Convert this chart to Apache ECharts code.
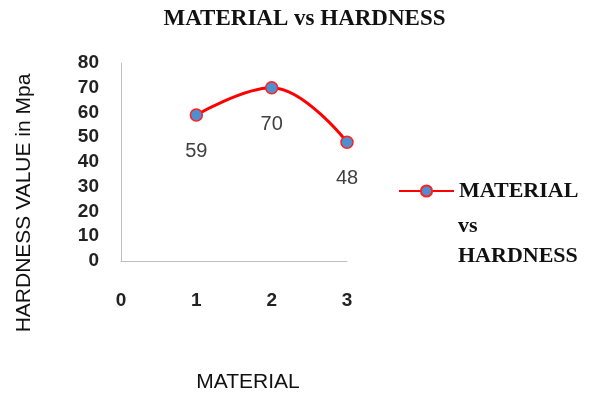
<!DOCTYPE html>
<html>
<head>
<meta charset="utf-8">
<script src="https://cdn.jsdelivr.net/npm/echarts@6/dist/echarts.min.js"></script>
<style>html,body{margin:0;padding:0;background:#fff}#c{width:609px;height:394px}</style>
</head>
<body>
<div id="c"></div>
<script>
const titleText = 'MATERIAL vs HARDNESS';
const seriesName = 'MATERIAL vs HARDNESS';
const legendLines = ['MATERIAL', 'vs', 'HARDNESS'];
const materials = [1, 2, 3];
const hardness = [59, 70, 48];
const yAxisName = 'HARDNESS VALUE in Mpa';
const xAxisName = 'MATERIAL';

const legendFont = {fontFamily: 'Liberation Serif', fontWeight: 'bold', fontSize: 22, fill: '#111'};

const chart = echarts.init(document.getElementById('c'));
chart.setOption({
  animation: false,
  backgroundColor: '#ffffff',
  title: {
    text: titleText,
    left: 'center', top: 3,
    padding: [5, 15, 5, 0],
    textStyle: {fontFamily: 'Liberation Serif', fontWeight: 'bold', fontSize: 23, color: '#111'}
  },
  grid: {left: 121, right: 262, top: 63, bottom: 133, outerBoundsMode: 'none', containLabel: false},
  xAxis: {
    type: 'value', min: 0, max: 3, interval: 1,
    name: xAxisName, nameLocation: 'middle', nameGap: 111,
    nameTextStyle: {fontFamily: 'Liberation Sans', fontSize: 21, color: '#111', padding: [0, 0, 0, 28]},
    axisLine: {show: true, lineStyle: {color: '#bfbfbf', width: 1}},
    axisTick: {show: false},
    splitLine: {show: false},
    axisLabel: {margin: 30, fontFamily: 'Liberation Sans', fontWeight: 'bold', fontSize: 19, color: '#222'}
  },
  yAxis: {
    type: 'value', min: 0, max: 80, interval: 10,
    name: yAxisName, nameLocation: 'middle', nameGap: 86,
    nameTextStyle: {fontFamily: 'Liberation Sans', fontSize: 21, color: '#111', padding: [0, 82, 0, 0]},
    axisLine: {show: true, lineStyle: {color: '#bfbfbf', width: 1}},
    axisTick: {show: false},
    splitLine: {show: false},
    axisLabel: {margin: 22, fontFamily: 'Liberation Sans', fontWeight: 'bold', fontSize: 19, color: '#222'}
  },
  legend: {
    data: [seriesName],
    left: 393, top: 175,
    itemWidth: 55, itemHeight: 14,
    formatter: function () { return legendLines[0]; },
    textStyle: {fontFamily: 'Liberation Serif', fontWeight: 'bold', fontSize: 22, color: '#111'}
  },
  graphic: [
    {type: 'text', left: 458, top: 215, style: Object.assign({text: legendLines[1]}, legendFont)},
    {type: 'text', left: 458, top: 245, style: Object.assign({text: legendLines[2]}, legendFont)}
  ],
  series: [{
    name: seriesName,
    type: 'line',
    data: materials.map((m, i) => [m, hardness[i]]),
    smooth: 0.4,
    symbol: 'circle', symbolSize: 12,
    lineStyle: {color: '#ff0000', width: 3},
    itemStyle: {color: '#4f8fd0', borderColor: '#ff2020', borderWidth: 1.5},
    label: {
      show: true, position: 'bottom', distance: 20,
      fontFamily: 'Liberation Sans', fontSize: 20, color: '#404040',
      formatter: p => p.value[1]
    }
  }]
});
</script>
</body>
</html>
